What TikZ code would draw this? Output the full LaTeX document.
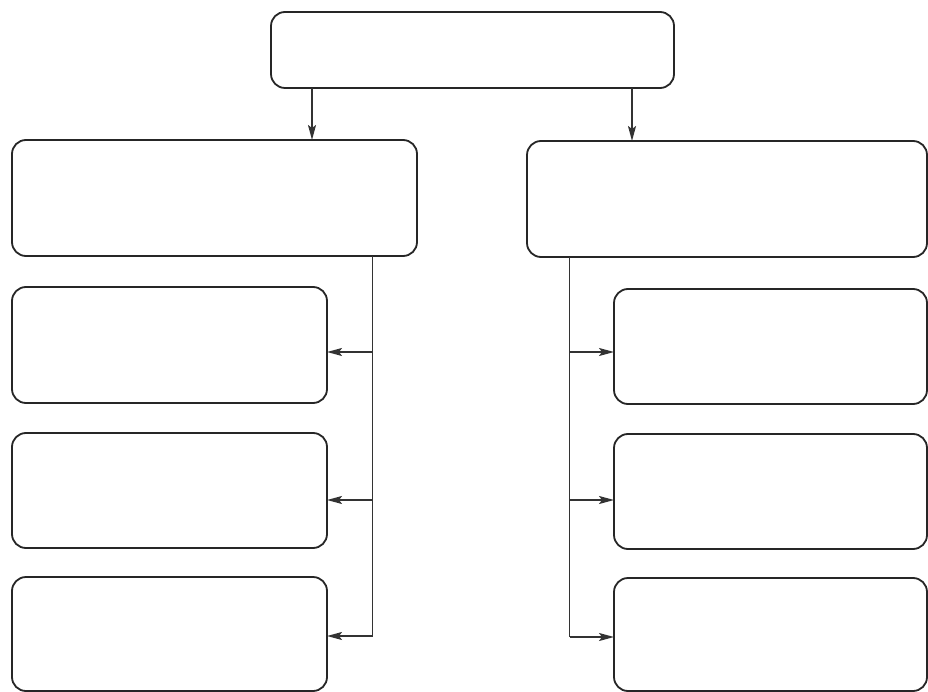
\documentclass[tikz,border=0pt]{standalone}
\usetikzlibrary{arrows.meta}
\begin{document}
\begin{tikzpicture}[x=1pt,y=-1pt,
  box/.style={draw=black!85,line width=1.8pt,rounded corners=14pt,fill=white,
    inner sep=0pt,outer sep=0pt,anchor=north west},
  link/.style={draw=black!80,line width=1.7pt},
  arr/.style={link,-{Stealth[length=15pt,width=8pt,inset=3pt]}}]
\useasboundingbox (0,0) rectangle (928,692);
% boxes
\node[box,minimum width=403pt,minimum height=76pt] (top) at (271,12) {};
\node[box,minimum width=405pt,minimum height=116pt] (lm) at (12,140) {};
\node[box,minimum width=400pt,minimum height=116pt] (rm) at (527,141) {};
\node[box,minimum width=315pt,minimum height=116pt] (l1) at (12,287) {};
\node[box,minimum width=315pt,minimum height=115pt] (l2) at (12,433) {};
\node[box,minimum width=315pt,minimum height=114pt] (l3) at (12,577) {};
\node[box,minimum width=313pt,minimum height=115pt] (r1) at (614,289) {};
\node[box,minimum width=313pt,minimum height=115pt] (r2) at (614,434) {};
\node[box,minimum width=313pt,minimum height=113pt] (r3) at (614,578) {};
% trunk coordinates
\coordinate (ta) at (312,0);
\coordinate (tb) at (632,0);
\coordinate (lt) at (372.5,0);
\coordinate (rt) at (569.5,0);
\coordinate (ly1) at (0,352);
\coordinate (ly2) at (0,500);
\coordinate (ly3) at (0,636);
\coordinate (ry1) at (0,352);
\coordinate (ry2) at (0,500);
\coordinate (ry3) at (0,637);
% arrows from top
\draw[arr] (top.south -| ta) -- (lm.north -| ta);
\draw[arr] (top.south -| tb) -- (rm.north -| tb);
% left trunk
\draw[link] (lm.south -| lt) -- (lt |- ly3);
\draw[arr] (lt |- ly1) -- (l1.east |- ly1);
\draw[arr] (lt |- ly2) -- (l2.east |- ly2);
\draw[arr] (lt |- ly3) -- (l3.east |- ly3);
% right trunk
\draw[link] (rm.south -| rt) -- (rt |- ry3);
\draw[arr] (rt |- ry1) -- (r1.west |- ry1);
\draw[arr] (rt |- ry2) -- (r2.west |- ry2);
\draw[arr] (rt |- ry3) -- (r3.west |- ry3);
\end{tikzpicture}
\end{document}
